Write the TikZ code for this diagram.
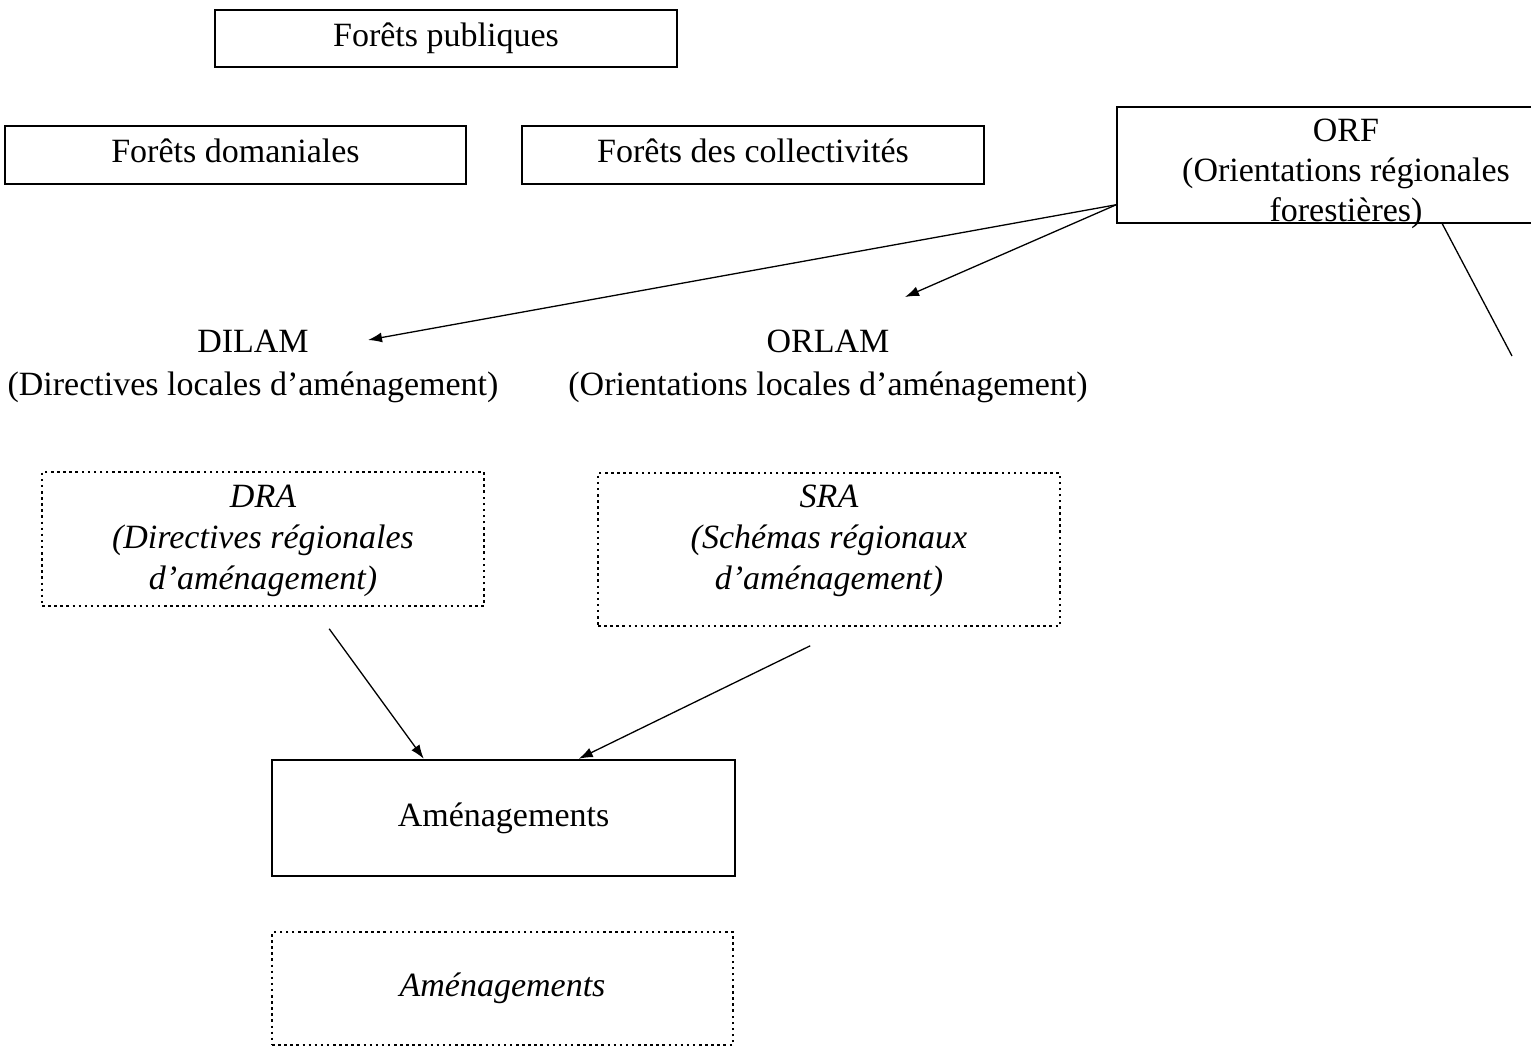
\documentclass[tikz,border=0pt]{standalone}
\usepackage{fontspec}
\setmainfont{Liberation Serif}
\usetikzlibrary{arrows.meta,calc}
\begin{document}
\begin{tikzpicture}[x=1pt,y=-1pt,
  every node/.style={font=\fontsize{34}{41}\selectfont, inner sep=0pt},
  box/.style={draw, line width=1.5pt, text height=23pt, text depth=7pt},
  thickbox/.style={draw, line width=2.5pt, text height=23pt, text depth=7pt},
  dotbox/.style={draw, line width=1.6pt, dash pattern=on 2.5pt off 3.6pt},
  txt/.style={align=center, anchor=base},
  itxt/.style={align=center, anchor=base, font=\fontsize{34}{41}\selectfont\itshape},
  arr/.style={line width=1.3pt, -{Latex[length=14pt,width=10pt]}},
  ln/.style={line width=1.3pt}]
\useasboundingbox (0,0) rectangle (1531,1051);
\clip (0,0) rectangle (1531,1051);
% top boxes
\node[box, minimum width=462pt, minimum height=57pt] (pub) at (446,38.5) {Forêts publiques};
\node[box, minimum width=461pt, minimum height=58pt] (dom) at (235.5,155) {Forêts domaniales};
\node[box, minimum width=462pt, minimum height=58pt] (col) at (753,155) {Forêts des collectivités};
% ORF
\node[draw, line width=1.5pt, minimum width=463pt, minimum height=116pt] (orf) at (1348.5,165) {};
\node[txt, font=\fontsize{34}{40}\selectfont] (orft) at (1346,222) {ORF\\(Orientations régionales\\forestières)};
% DILAM / ORLAM
\node[txt, font=\fontsize{34}{43}\selectfont] (dilam) at (253,395) {DILAM\\(Directives locales d’aménagement)};
\node[txt, font=\fontsize{34}{43}\selectfont] (orlam) at (828,395) {ORLAM\\(Orientations locales d’aménagement)};
% DRA / SRA
\node[dotbox, minimum width=442pt, minimum height=134pt] (dra) at (263,539) {};
\node[itxt] (drat) at (263,589) {DRA\\(Directives régionales\\d’aménagement)};
\node[dotbox, minimum width=462pt, minimum height=153pt] (sra) at (829,549.5) {};
\node[itxt] (srat) at (829,589) {SRA\\(Schémas régionaux\\d’aménagement)};
% Aménagements
\node[thickbox, minimum width=463pt, minimum height=116pt] (amen) at (503.5,818) {Aménagements};
\node[dotbox, text height=23pt, text depth=7pt, minimum width=461pt, minimum height=113pt, font=\fontsize{34}{41}\selectfont\itshape] (amenf) at (502.5,988.5) {Aménagements};
% connectors
\coordinate (orfout) at ($(orf.south west)+(0,-19)$);
\coordinate (dilamtip) at (368,340);
\coordinate (orlamtip) at (905,297);
\coordinate (orfdown) at ($(orf.south west)+(326,0)$);
\coordinate (orfend) at (1512,356);
\coordinate (drastart) at ($(dra.south west)+(288,22)$);
\coordinate (srastart) at ($(sra.south west)+(213,19)$);
\coordinate (amenin1) at ($(amen.north west)+(153,0)$);
\coordinate (amenin2) at ($(amen.north west)+(308,0)$);
\draw[arr] (orfout) -- (dilamtip);
\draw[arr] (orfout) -- (orlamtip);
\draw[ln] (orfdown) -- (orfend);
\draw[arr] (drastart) -- (amenin1);
\draw[arr] (srastart) -- (amenin2);
\end{tikzpicture}
\end{document}
